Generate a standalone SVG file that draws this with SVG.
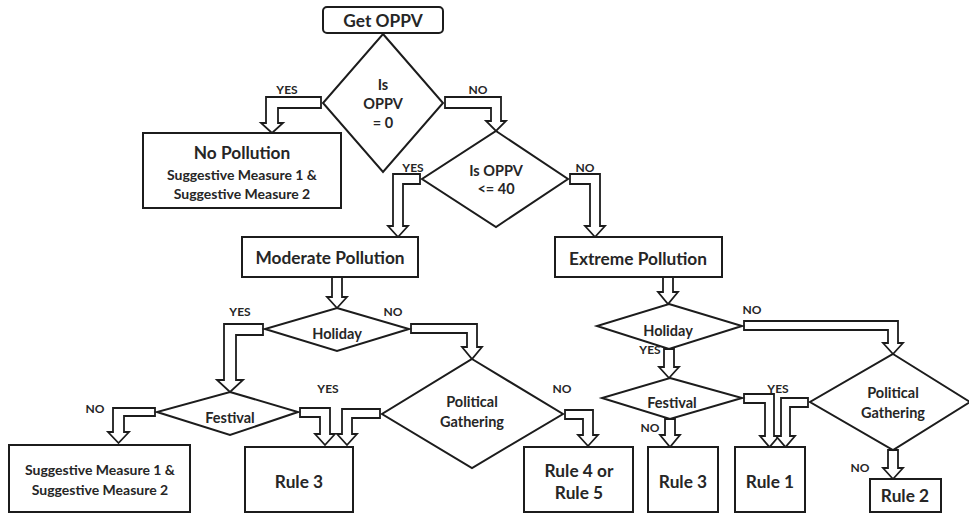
<svg xmlns="http://www.w3.org/2000/svg" width="969" height="514" viewBox="0 0 969 514">
<style>
.bx{fill:#fff;stroke:#1c1c1c;stroke-width:2}
.dm{fill:#fff;stroke:#1c1c1c;stroke-width:2;stroke-linejoin:miter}
.ar{fill:#fff;stroke:#1c1c1c;stroke-width:1.8;stroke-linejoin:miter}
text{font-family:Lato,"Open Sans","Liberation Sans",sans-serif;font-weight:bold;fill:#262626;text-anchor:middle}
.t16{font-size:17.3px}
.t13{font-size:14.5px}
.t12{font-size:14px}
.lb{font-size:12px}
</style>
<rect width="969" height="514" fill="#fff"/>
<g id="connectors">
<path class="ar" d="M321,97 H266 V123 H261 L272,133 L283,123 H278 V108 H321 Z"/>
<path class="ar" d="M445,97 H501 V121 H506 L496,131 L486,121 H491 V108 H445 Z"/>
<path class="ar" d="M420,174 H393 V226 H388 L398,237 L408,226 H403 V184 H420 Z"/>
<path class="ar" d="M570,174 H600 V226 H605 L595,237 L585,226 H590 V184 H570 Z"/>
<path class="ar" d="M332,277 V297 H327 L337,308 L347,297 H342 V277 Z"/>
<path class="ar" d="M263,324 H224 V380 H217 L230,392 L243,380 H236 V335 H263 Z"/>
<path class="ar" d="M411,324 H477 V347 H482 L472,359 L462,347 H467 V333 H411 Z"/>
<path class="ar" d="M155,408 H113 V432 H108 L118.5,443 L129,432 H124 V416 H155 Z"/>
<path class="ar" d="M300,408 H330 V434 H335 L325,445 L315,434 H320 V417 H300 Z"/>
<path class="ar" d="M380,409 H342 V434 H337 L347,445 L357,434 H352 V418 H380 Z"/>
<path class="ar" d="M565,410 H593 V435 H598 L588,446 L578,435 H583 V419 H565 Z"/>
<path class="ar" d="M663,277 V292 H658 L668,304 L678,292 H673 V277 Z"/>
<path class="ar" d="M744,321 H898 V343 H903 L893,354 L883,343 H888 V330 H744 Z"/>
<path class="ar" d="M664,349 V367 H659 L669,378 L679,367 H674 V349 Z"/>
<path class="ar" d="M665,419 V435 H660 L670,447 L680,435 H675 V419 Z"/>
<path class="ar" d="M744,394 H774 V436 H779 L769.5,447 L760,436 H765 V403 H744 Z"/>
<path class="ar" d="M808,398 H781 V436 H776 L785.5,447 L795,436 H790 V407 H808 Z"/>
<path class="ar" d="M888,450 V468 H883 L893,479 L903,468 H898 V450 Z"/>
</g>
<g id="get-oppv">
<rect class="bx" x="323" y="7" width="120" height="26" rx="4"/>
<text class="t16" x="383" y="27">Get OPPV</text>
</g>
<g id="is-oppv-0">
<polygon class="dm" points="383,34 443,103 383,172 323,103"/>
<text class="t13" x="383" y="90">Is</text>
<text class="t13" x="383" y="109">OPPV</text>
<text class="t13" x="383" y="128">= 0</text>
<text class="lb" x="287" y="94">YES</text>
<text class="lb" x="478" y="94">NO</text>
</g>
<g id="no-pollution">
<rect class="bx" x="143" y="133" width="198" height="75"/>
<text class="t16" x="242" y="159">No Pollution</text>
<text class="t12" x="242" y="180">Suggestive Measure 1 &amp;</text>
<text class="t12" x="242" y="199">Suggestive Measure 2</text>
</g>
<g id="is-oppv-40">
<polygon class="dm" points="496,131 568,179 496,227 422,179"/>
<text class="t13" x="496" y="176">Is OPPV</text>
<text class="t13" x="496" y="194">&lt;= 40</text>
<text class="lb" x="413" y="172">YES</text>
<text class="lb" x="585" y="172">NO</text>
</g>
<g id="moderate-pollution">
<rect class="bx" x="242" y="237" width="176" height="40"/>
<text class="t16" x="330" y="264">Moderate Pollution</text>
</g>
<g id="extreme-pollution">
<rect class="bx" x="555" y="237" width="167" height="40"/>
<text class="t16" x="638" y="265">Extreme Pollution</text>
</g>
<g id="holiday-left">
<polygon class="dm" points="337,308 409,329 337,351 265,329"/>
<text class="t13" x="337" y="339">Holiday</text>
<text class="lb" x="240" y="316">YES</text>
<text class="lb" x="393" y="316">NO</text>
</g>
<g id="festival-left">
<polygon class="dm" points="230,392 298,412 230,435 157,412"/>
<text class="t13" x="230" y="423">Festival</text>
<text class="lb" x="95" y="413">NO</text>
<text class="lb" x="328" y="393">YES</text>
</g>
<g id="political-gathering-mid">
<polygon class="dm" points="472,359 563,414 472,468 382,414"/>
<text class="t13" x="472" y="407">Political</text>
<text class="t13" x="472" y="427">Gathering</text>
<text class="lb" x="562" y="393">NO</text>
</g>
<g id="suggestive-box">
<rect class="bx" x="9" y="445" width="181" height="67"/>
<text class="t12" x="100" y="475">Suggestive Measure 1 &amp;</text>
<text class="t12" x="100" y="495">Suggestive Measure 2</text>
</g>
<g id="rule3-left">
<rect class="bx" x="245" y="447" width="108" height="65"/>
<text class="t16" x="299" y="488">Rule 3</text>
</g>
<g id="rule45">
<rect class="bx" x="524" y="447" width="109" height="65"/>
<text class="t16" x="579" y="477">Rule 4 or</text>
<text class="t16" x="579" y="499">Rule 5</text>
</g>
<g id="holiday-right">
<polygon class="dm" points="669,304 742,326 669,349 597,326"/>
<text class="t13" x="668" y="336">Holiday</text>
<text class="lb" x="752" y="314">NO</text>
<text class="lb" x="650" y="354">YES</text>
</g>
<g id="festival-right">
<polygon class="dm" points="670,378 742,398 670,419 602,398"/>
<text class="t13" x="672" y="408">Festival</text>
<text class="lb" x="650" y="432">NO</text>
<text class="lb" x="778" y="393">YES</text>
</g>
<g id="political-gathering-right">
<polygon class="dm" points="893,354 970,402 893,450 810,402"/>
<text class="t13" x="893" y="398">Political</text>
<text class="t13" x="893" y="418">Gathering</text>
<text class="lb" x="860" y="472">NO</text>
</g>
<g id="rule3-right">
<rect class="bx" x="648" y="447" width="70" height="65"/>
<text class="t16" x="683" y="488">Rule 3</text>
</g>
<g id="rule1">
<rect class="bx" x="735" y="447" width="70" height="65"/>
<text class="t16" x="770" y="488">Rule 1</text>
</g>
<g id="rule2">
<rect class="bx" x="870" y="479" width="71" height="33"/>
<text class="t16" x="905" y="502">Rule 2</text>
</g>
</svg>
